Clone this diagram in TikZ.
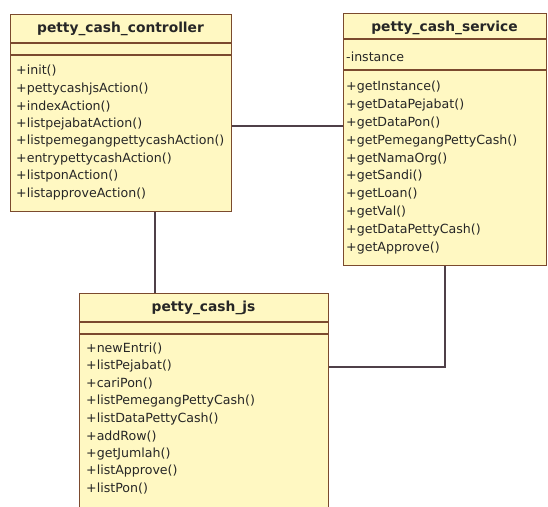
\documentclass[tikz,border=0pt]{standalone}
\usepackage{fontspec}
\setmainfont{DejaVu Sans}
\usetikzlibrary{calc}

\definecolor{classfill}{HTML}{FFF8C2}
\definecolor{classedge}{HTML}{7B4A2E}
\definecolor{linkcol}{HTML}{4F4048}

\tikzset{
  classbox/.style={draw=classedge, fill=classfill, line width=1.2pt,
    rectangle, anchor=north west, inner sep=0pt},
  sepline/.style={draw=classedge, line width=1.2pt},
  title/.style={font=\fontsize{13.8}{16}\selectfont\bfseries, inner sep=0pt,
    text=black!85},
  member/.style={font=\fontsize{12.6}{14}\selectfont, anchor=west, inner sep=0pt,
    text=black!85},
  assoc/.style={draw=linkcol, line width=1.2pt}
}

\begin{document}
\begin{tikzpicture}[x=1pt,y=1pt]
\useasboundingbox (0,0) rectangle (548,-506);
\clip (0,0) rectangle (548,-506);
\fill[white] (0,0) rectangle (548,-506);

% ---------- petty_cash_controller ----------
\node[classbox, minimum width=221pt, minimum height=197pt] (ctrl) at (10,-14) {};
\draw[sepline] ($(ctrl.north west)+(0,-29)$) -- ($(ctrl.north east)+(0,-29)$);
\draw[sepline] ($(ctrl.north west)+(0,-41)$) -- ($(ctrl.north east)+(0,-41)$);
\node[title] (ctrlname) at (120.5,-29) {petty\_cash\_controller};
\foreach \m [count=\i from 0] in {+init(),+pettycashjsAction(),+indexAction(),
  +listpejabatAction(),+listpemegangpettycashAction(),+entrypettycashAction(),
  +listponAction(),+listapproveAction()}
  \node[member] (ctrlm\i) at (16,-71-17.57*\i) {\m};

% ---------- petty_cash_service ----------
\node[classbox, minimum width=203pt, minimum height=252pt] (svc) at (343,-13) {};
\draw[sepline] ($(svc.north west)+(0,-26)$) -- ($(svc.north east)+(0,-26)$);
\draw[sepline] ($(svc.north west)+(0,-57)$) -- ($(svc.north east)+(0,-57)$);
\node[title] (svcname) at (444.5,-28) {petty\_cash\_service};
\node[member] (svcattr) at (346,-57) {-instance};
\foreach \m [count=\i from 0] in {+getInstance(),+getDataPejabat(),+getDataPon(),
  +getPemegangPettyCash(),+getNamaOrg(),+getSandi(),+getLoan(),+getVal(),
  +getDataPettyCash(),+getApprove()}
  \node[member] (svcm\i) at (346,-87-17.9*\i) {\m};

% ---------- petty_cash_js ----------
\node[classbox, minimum width=249pt, minimum height=240pt] (js) at (79,-293) {};
\draw[sepline] ($(js.north west)+(0,-29)$) -- ($(js.north east)+(0,-29)$);
\draw[sepline] ($(js.north west)+(0,-41)$) -- ($(js.north east)+(0,-41)$);
\node[title] (jsname) at (203.5,-308) {petty\_cash\_js};
\foreach \m [count=\i from 0] in {+newEntri(),+listPejabat(),+cariPon(),
  +listPemegangPettyCash(),+listDataPettyCash(),+addRow(),+getJumlah(),
  +listApprove(),+listPon()}
  \node[member] (jsm\i) at (86,-349-17.5*\i) {\m};

% ---------- associations ----------
\coordinate (ctrlR) at ($(ctrl.north east)+(0,-112)$);
\draw[assoc] (ctrlR) -- (svc.west |- ctrlR);
\coordinate (ctrlB) at ($(ctrl.south west)+(145,0)$);
\draw[assoc] (ctrlB) -- (js.north -| ctrlB);
\coordinate (svcB) at ($(svc.south west)+(102,0)$);
\coordinate (jsR) at ($(js.north east)+(0,-74)$);
\draw[assoc] (svcB) |- (jsR);
\end{tikzpicture}
\end{document}
